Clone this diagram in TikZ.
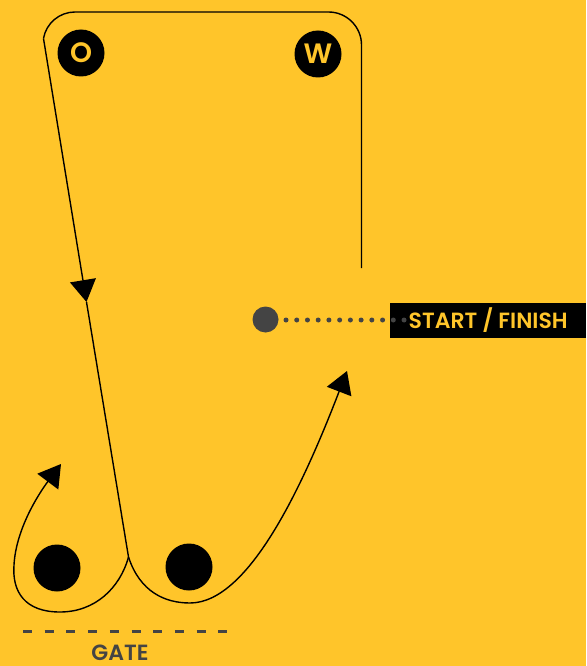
\documentclass[tikz,border=0pt]{standalone}
\usepackage{fontspec}
\usepackage{xcolor}
\usepackage{tikz}
\usetikzlibrary{arrows.meta, positioning}
\newfontfamily\signfont{Poppins}[BoldFont={* SemiBold}]
\definecolor{field}{HTML}{FFC52A}
\definecolor{chalk}{HTML}{444444}

\begin{document}
\begin{tikzpicture}[
  x=1pt, y=-1pt,
  cone/.style={circle, fill=black, minimum size=47pt, inner sep=0pt},
  turn/.style={circle, fill=black, minimum size=47pt, inner sep=0pt,
               text=field, font=\signfont\bfseries\fontsize{28}{28}\selectfont},
  route/.style={line width=1.4pt, line join=round},
  arr/.style={-{Triangle[length=22pt, width=26pt]}},
  tag/.style={fill=black, text=field, minimum width=196pt, minimum height=35pt,
              inner sep=0pt, font=\signfont\bfseries\fontsize{22}{22}\selectfont}
]
\useasboundingbox[fill=field] (0,0) rectangle (586,666);

\node[turn] (o) at (81,53) {O};
\node[turn] (w) at (318,54) {W};
\node[cone] (cone1) at (57,568) {};
\node[cone] (cone2) at (189,567) {};
\node[circle, fill=chalk, minimum size=26pt, inner sep=0pt] (start) at (265.5,319.5) {};
\node[tag, anchor=west] (finish) at (390,320) {START / FINISH};

\coordinate (entry) at (361.5,268);
\coordinate (mid) at (86.5,302);
\coordinate (gate) at (128.5,557);
\coordinate (tip1) at (61,464);
\coordinate (tip2) at (347,371);

% course
\draw[route] (entry) -- (361.5,45) arc[start angle=0, end angle=-90, radius=33]
  -- (75,12) arc[start angle=-90, end angle=-170, radius=32] coordinate (tl);
\draw[route, arr] (tl) -- (mid);
\draw[route] (mid) -- (gate);
\draw[route, arr] (gate) .. controls (120,588) and (95,612) .. (60,612)
  .. controls (25,612) and (12,592) .. (14,565)
  .. controls (16,528) and (40,492) .. (tip1);
\draw[route, arr] (gate) .. controls (140,592) and (165,603) .. (190,603)
  .. controls (250,603) and (305,480) .. (tip2);

% start line
\draw[chalk, line width=5pt, line cap=round, dash pattern=on 0pt off 10.73pt]
  (286,320) -- (405,320);

% gate
\draw[chalk, line width=3pt, dash pattern=on 9pt off 12.7pt] (23,631) -- (232,631);
\node[text=chalk, inner sep=0pt, font=\signfont\bfseries\fontsize{22}{22}\selectfont] (gatelabel)
  at (120,653) {GATE};
\end{tikzpicture}
\end{document}
